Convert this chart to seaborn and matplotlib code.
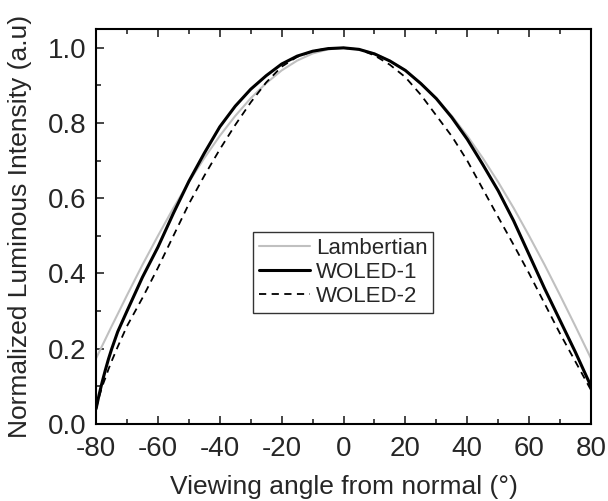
import numpy as np
import pandas as pd
import matplotlib
matplotlib.use("Agg")
import matplotlib.pyplot as plt
from matplotlib.ticker import MultipleLocator
import seaborn as sns

angle = [-80, -79, -78, -77, -76, -75, -73, -70, -65, -60, -55, -50, -45, -40, -35, -30, -25, -20,
         -15, -10, -5, 0, 5, 10, 15, 20, 25, 30, 35, 40, 45, 50, 55, 60, 65, 70, 75, 80]

lambertian = [0.174, 0.191, 0.208, 0.225, 0.242, 0.259, 0.292, 0.342, 0.423, 0.500, 0.574, 0.643,
              0.707, 0.766, 0.819, 0.866, 0.906, 0.940, 0.966, 0.985, 0.996, 1.000, 0.996,
              0.985, 0.966, 0.940, 0.906, 0.866, 0.819, 0.766, 0.707, 0.643, 0.574, 0.500,
              0.423, 0.342, 0.259, 0.174]

woled1 = [0.04, 0.078, 0.112, 0.143, 0.172, 0.198, 0.245, 0.30, 0.39, 0.47, 0.56, 0.645, 0.72, 0.79,
          0.845, 0.89, 0.926, 0.957, 0.978, 0.991, 0.998, 1.0, 0.996, 0.984, 0.965, 0.94,
          0.905, 0.865, 0.815, 0.757, 0.69, 0.62, 0.54, 0.45, 0.36, 0.275, 0.19, 0.10]

woled2 = [0.04, 0.072, 0.10, 0.122, 0.145, 0.166, 0.205, 0.26, 0.335, 0.415, 0.50, 0.585, 0.66, 0.73,
          0.795, 0.855, 0.908, 0.95, 0.976, 0.991, 0.999, 1.0, 0.996, 0.98, 0.955, 0.922,
          0.875, 0.82, 0.765, 0.70, 0.625, 0.55, 0.476, 0.40, 0.32, 0.24, 0.165, 0.09]

sns.set_style("ticks")
plt.rcParams['font.family'] = ['Liberation Sans', 'DejaVu Sans']
plt.rcParams['axes.unicode_minus'] = False

df = pd.DataFrame({"angle": angle, "Lambertian": lambertian,
                   "WOLED-1": woled1, "WOLED-2": woled2})

fig = plt.figure(figsize=(6.08, 5.01), dpi=100)
ax = fig.add_axes([0.158, 0.154, 0.814, 0.788])

sns.lineplot(data=df, x="angle", y="Lambertian", ax=ax, color="#c0c0c0", lw=1.5, label="Lambertian")
sns.lineplot(data=df, x="angle", y="WOLED-1", ax=ax, color="black", lw=2.2, label="WOLED-1")
sns.lineplot(data=df, x="angle", y="WOLED-2", ax=ax, color="black", lw=1.3, label="WOLED-2",
             linestyle=(0, (4, 3)))

ax.set_xlim(-80, 80)
ax.set_ylim(0, 1.05)
ax.xaxis.set_major_locator(MultipleLocator(20))
ax.xaxis.set_minor_locator(MultipleLocator(10))
ax.yaxis.set_minor_locator(MultipleLocator(0.1))
ax.set_yticks(np.arange(0, 1.01, 0.2))
ax.set_yticklabels([f"{v:.1f}" for v in np.arange(0, 1.01, 0.2)])
ax.tick_params(which="both", direction="in", top=True, right=False, labelsize=20, width=1.2)
ax.tick_params(axis="x", which="major", pad=9)
ax.tick_params(axis="y", which="major", pad=7)
ax.tick_params(which="major", length=6)
ax.tick_params(which="minor", length=3.5)
for s in ax.spines.values():
    s.set_linewidth(1.5)
    s.set_color("black")

ax.set_xlabel("Viewing angle from normal (°)", fontsize=19, labelpad=9)
ax.set_ylabel("Normalized Luminous Intensity (a.u)", fontsize=19, labelpad=11)

leg = ax.legend(loc="upper left", bbox_to_anchor=(0.317, 0.486), borderaxespad=0, fontsize=16,
                frameon=True, fancybox=False, edgecolor="black", handlelength=2.3,
                labelspacing=0.15, borderpad=0.25, handletextpad=0.3)
leg.get_frame().set_linewidth(1.0)

fig.savefig("out.png", dpi=100)
